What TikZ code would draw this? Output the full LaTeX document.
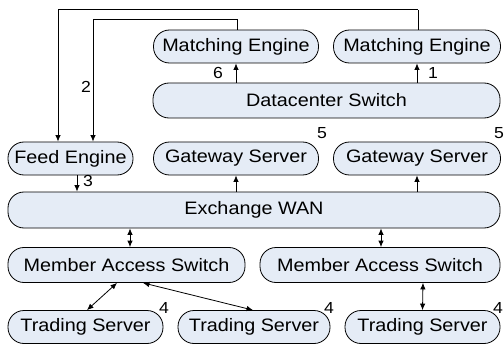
\documentclass[tikz,border=0pt]{standalone}
\usepackage{fontspec}
\setmainfont{Liberation Sans}[FakeStretch=1.1]
\usetikzlibrary{arrows.meta,calc}
\definecolor{boxfill}{RGB}{229,236,246}
\tikzset{
  box/.style={draw=black, line width=0.8pt, fill=boxfill, rounded corners=16pt,
    inner sep=0pt, font=\fontsize{18}{20}\selectfont},
  conn/.style={line width=0.8pt, -{Latex[length=6.5pt,width=5.5pt]}},
  dconn/.style={line width=0.8pt, {Latex[length=6.5pt,width=5.5pt]}-{Latex[length=6.5pt,width=5.5pt]}},
  num/.style={font=\fontsize{16}{18}\selectfont, inner sep=0pt}
}
\begin{document}
\begin{tikzpicture}[x=1pt,y=-1pt]
\useasboundingbox (0,0) rectangle (504,345);
% nodes
\node[box, minimum width=165pt, minimum height=33pt] (me1) at (236,46.5) {Matching Engine};
\node[box, minimum width=167pt, minimum height=33pt] (me2) at (417,46.5) {Matching Engine};
\node[box, minimum width=347pt, minimum height=35pt] (dc) at (326.5,100.5) {Datacenter Switch};
\node[box, minimum width=125pt, minimum height=33pt] (fe) at (70.5,158.5) {Feed Engine};
\node[box, minimum width=165pt, minimum height=33pt] (gw1) at (236,158.5) {Gateway Server};
\node[box, minimum width=167pt, minimum height=33pt] (gw2) at (417,158.5) {Gateway Server};
\node[box, minimum width=492pt, minimum height=36pt] (wan) at (254,210) {Exchange WAN};
\node[box, minimum width=237pt, minimum height=35pt] (mas1) at (126.5,265) {Member Access Switch};
\node[box, minimum width=240pt, minimum height=35pt] (mas2) at (380,265) {Member Access Switch};
\node[box, minimum width=155pt, minimum height=33pt] (ts1) at (85.5,327) {Trading Server};
\node[box, minimum width=152pt, minimum height=33pt] (ts2) at (254,327) {Trading Server};
\node[box, minimum width=155pt, minimum height=33pt] (ts3) at (422.5,327) {Trading Server};
% labels
\node[num] (l6) at (218,73) {6};
\node[num] (l1) at (433,73) {1};
\node[num] (l2) at (86,87) {2};
\node[num] (l3) at (88,181) {3};
\node[num] (l5a) at (322,133) {5};
\node[num] (l5b) at (499,133) {5};
\node[num] (l4a) at (164,308) {4};
\node[num] (l4b) at (329,308) {4};
\node[num] (l4c) at (498,308) {4};
% connectors
\draw[conn] (dc.north -| me1) -- (me1.south);
\draw[conn] (dc.north -| me2) -- (me2.south);
\draw[conn] (wan.north -| gw1) -- (gw1.south);
\draw[conn] (wan.north -| gw2) -- (gw2.south);
\path ($(fe.south)+(6.5,0)$) coordinate (fes);
\draw[conn] (fes) -- (fes |- wan.north);
% feed lines
\path ($(fe.north)+(-12.5,0)$) coordinate (feo);
\path ($(fe.north)+(22.5,0)$) coordinate (fei);
\path ($(me2.north)+(1,-20)$) coordinate (me2up);
\path ($(me1.north)+(1.5,-10)$) coordinate (me1up);
\draw[line width=0.8pt] (me2.north -| me2up) -- (me2up);
\draw[conn] (me2up) -| (feo);
\draw[line width=0.8pt] (me1.north -| me1up) -- (me1up);
\draw[conn] (me1up) -| (fei);
% WAN to member switches
\path ($(mas1.north)+(3.5,0)$) coordinate (m1t);
\draw[dconn] (m1t |- wan.south) -- (m1t);
\path ($(mas2.north)+(1,0)$) coordinate (m2t);
\draw[dconn] (m2t |- wan.south) -- (m2t);
% member switches to trading servers
\draw[dconn] ($(mas1.south)+(-9.5,0)$) -- ($(ts1.north)+(1.5,0)$);
\draw[dconn] ($(mas1.south)+(16.5,0)$) -- ($(ts2.north)+(-1,0)$);
\draw[dconn] ($(mas2.south)+(43,0)$) -- (ts3.north);
\end{tikzpicture}
\end{document}
